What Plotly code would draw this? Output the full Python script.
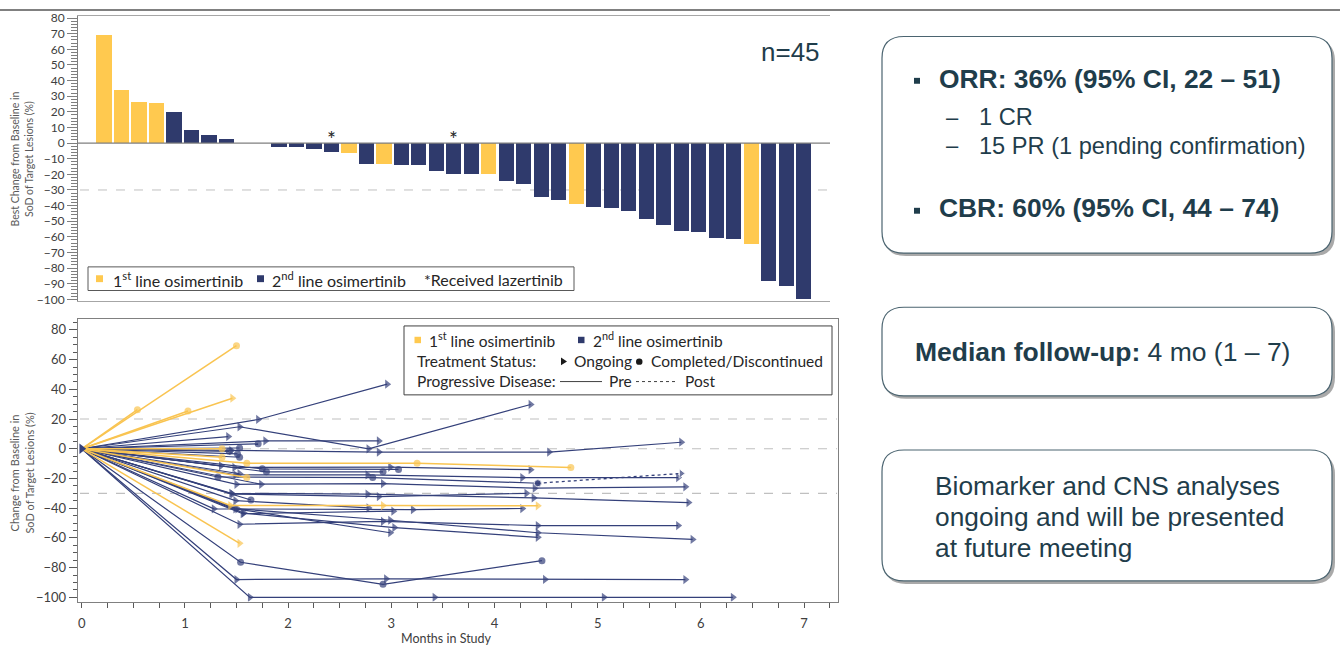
import plotly.graph_objects as go

W, H = 1340, 645


def X(px):
    return px / W


def Y(py):
    return 1 - py / H


# ---------------- Waterfall data ----------------
wf_best = [69.5, 34.3, 26.5, 25.5, 20.0, 8.2, 5.5, 2.9, 0, 0, -2.3, -2.5, -3.6, -5.7, -6.1,
           -13.0, -13.0, -14.2, -14.0, -18.0, -19.7, -19.9, -19.9, -23.9, -25.8, -34.6, -36.3,
           -38.8, -40.5, -41.3, -43.6, -48.2, -52.0, -56.0, -56.8, -60.6, -61.0, -64.4, -88.1,
           -91.6, -99.6]
wf_line = [1, 1, 1, 1, 2, 2, 2, 2, 2, 2, 2, 2, 2, 2, 1, 2, 1, 2, 2, 2, 2, 2, 1, 2, 2, 2, 2,
           1, 2, 2, 2, 2, 2, 2, 2, 2, 2, 1, 2, 2, 2]
wf_lazertinib = [13, 20]

# ---------------- Spider data ----------------
sp_months = [
    [0, 1.50], [0, 0.54], [0, 1.03], [0, 1.46], [0, 1.53], [0, 1.36], [0, 1.36],
    [0, 1.60, 3.25, 4.74], [0, 1.60], [0, 1.44, 2.92, 4.42],
    [0, 1.71, 2.96], [0, 1.53, 2.78, 4.35], [0, 1.42], [0, 1.78, 2.88], [0, 1.71],
    [0, 1.45, 2.88, 4.53, 5.81], [0, 1.43], [0, 1.53], [0, 1.51], [0, 1.53], [0, 1.35],
    [0, 1.48, 2.99, 4.35], [0, 1.75, 3.07], [0, 1.79, 2.92], [0, 1.53],
    [0, 1.32, 2.82, 4.42], [0, 1.49, 2.77, 4.27, 5.78], [0, 1.74],
    [0, 1.50, 2.92, 4.39, 5.85], [0, 1.46, 2.88, 4.31], [0, 1.45, 2.77, 4.38, 5.88],
    [0, 1.64], [0, 1.49, 2.78], [0, 1.28, 3.21, 4.27], [0, 1.56, 3.02],
    [0, 1.53, 2.92, 4.42, 5.78], [0, 1.51, 2.99, 4.42, 5.92], [0, 1.57, 3.03, 4.42],
    [0, 1.49, 2.99], [0, 1.50, 2.95, 4.49, 5.85], [0, 1.54, 2.92, 4.46],
    [0, 1.63, 3.42, 5.06, 6.31],
]
sp_values = [
    [0, 69.4], [0, 26.3], [0, 25.4], [0, 34.0], [0, -63.6], [0, 0.0], [0, -5.7],
    [0, -9.7, -9.7, -12.6], [0, -19.4], [0, -38.2, -38.2, -38.4],
    [0, 19.7, 43.5], [0, 14.8, 0.0, 29.8], [0, 8.2], [0, 5.3, 5.3], [0, 3.3],
    [0, -1.2, -2.2, -2.2, 4.4], [0, -1.7], [0, 0.5], [0, -3.5], [0, -5.7], [0, -11.5],
    [0, -12.6, -12.3, -14.1], [0, -13.5, -13.9], [0, -15.5, -15.5], [0, -16.8],
    [0, -19.0, -19.4, -23.2], [0, -17.5, -17.6, -19.4, -19.4], [0, -23.9],
    [0, -23.9, -23.4, -26.5, -25.6], [0, -30.5, -32.2, -30.0], [0, -30.0, -30.5, -33.1, -36.2],
    [0, -34.5], [0, -34.9, -39.8], [0, -40.4, -41.0, -40.2], [0, -43.7, -42.0],
    [0, -50.8, -48.8, -51.7, -51.7], [0, -40.4, -48.1, -56.5, -61.0], [0, -43.3, -53.0, -59.6],
    [0, -40.4, -56.5], [0, -88.0, -87.5, -87.9, -88.0], [0, -76.4, -91.2, -75.3],
    [0, -100.0, -100.0, -100.0, -100.0],
]
sp_line = [1] * 10 + [2] * 32
sp_ongoing = [False, False, False, True, True, False, False, False, False, True,
              True, True, True, True, False, True, False, False, False, False, True,
              True, False, False, True, False, True, True, True, True, True,
              False, True, True, True, True, True, True, True, True, False, True]
# post-progression (dotted) segment
post_months = [4.42, 5.81]
post_values = [-23.2, -16.6]

YEL_BAR = '#FFC94F'
NAVY_BAR = '#2F3A6C'
YEL_LINE = '#F9C451'
NAVY_LINE = '#34407A'
TXT = '#1F3D4B'
CHART_FONT = 'Lato'
SLIDE_FONT = 'Liberation Sans'

fig = go.Figure()

# ---------------- Waterfall ----------------
fig.add_trace(go.Bar(
    x=list(range(len(wf_best))), y=wf_best,
    marker=dict(color=[YEL_BAR if l == 1 else NAVY_BAR for l in wf_line], line=dict(width=0)),
    width=0.86, xaxis='x', yaxis='y', showlegend=False, hoverinfo='skip'))

# ---------------- Spider ----------------
order = [i for i in range(len(sp_months)) if sp_line[i] == 2] + \
        [i for i in range(len(sp_months)) if sp_line[i] == 1]
for i in order:
    col = YEL_LINE if sp_line[i] == 1 else NAVY_LINE
    sym = 'triangle-right' if sp_ongoing[i] else 'circle'
    n = len(sp_months[i])
    fig.add_trace(go.Scatter(
        x=sp_months[i], y=sp_values[i], mode='lines+markers',
        line=dict(color=col, width=1.5 if sp_line[i] == 1 else 1.2),
        marker=dict(symbol=sym, color=col, size=[0] + [8 if sp_ongoing[i] else 7] * (n - 1),
                    line=dict(width=0)),
        xaxis='x2', yaxis='y2', showlegend=False, hoverinfo='skip'))

fig.add_trace(go.Scatter(
    x=post_months, y=post_values, mode='lines+markers',
    line=dict(color=NAVY_LINE, width=1.3, dash='dot'),
    marker=dict(symbol=['circle', 'triangle-right'], size=[7, 8], color=NAVY_LINE),
    xaxis='x2', yaxis='y2', showlegend=False, hoverinfo='skip'))

# origin marker
fig.add_trace(go.Scatter(
    x=[sp_months[0][0]], y=[sp_values[0][0]], mode='markers',
    marker=dict(symbol='triangle-right', size=9, color=NAVY_LINE),
    xaxis='x2', yaxis='y2', showlegend=False, hoverinfo='skip'))

shapes = []
ann = []

# slide header line
shapes.append(dict(type='line', xref='paper', yref='paper', x0=0, x1=1, y0=Y(5), y1=Y(5),
                   line=dict(color='#808080', width=2)))

# waterfall reference lines
shapes.append(dict(type='line', xref='paper', yref='y', x0=X(78), x1=X(830), y0=0, y1=0,
                   line=dict(color='#7f7f7f', width=1.3)))
shapes.append(dict(type='line', xref='paper', yref='y', x0=X(80), x1=X(830), y0=-30, y1=-30,
                   line=dict(color='#c0c0c0', width=1, dash='dash'), layer='below'))

# spider reference lines
for yv in [20, 0, -30]:
    shapes.append(dict(type='line', xref='paper', yref='y2', x0=X(80), x1=X(837), y0=yv, y1=yv,
                       line=dict(color='#c0c0c0', width=1.1, dash='dash'), layer='below'))

# waterfall asterisks
for idx in wf_lazertinib:
    ann.append(dict(x=idx, y=Y(136), xref='x', yref='paper', text='*', showarrow=False,
                    font=dict(family=CHART_FONT, size=21, color='#262626'),
                    xanchor='center', yanchor='middle'))

# waterfall legend
shapes.append(dict(type='rect', xref='paper', yref='paper', x0=X(88), x1=X(574), y0=Y(290), y1=Y(266),
                   line=dict(color='#595959', width=1), fillcolor='white'))
shapes.append(dict(type='rect', xref='paper', yref='paper', x0=X(96), x1=X(103), y0=Y(281.5), y1=Y(274.5),
                   line=dict(width=0), fillcolor=YEL_BAR))
shapes.append(dict(type='rect', xref='paper', yref='paper', x0=X(257), x1=X(264), y0=Y(281.5), y1=Y(274.5),
                   line=dict(width=0), fillcolor=NAVY_BAR))
for xp, t in [(111, '1<sup>st</sup> line osimertinib'), (270, '2<sup>nd</sup> line osimertinib'),
              (422, '*Received lazertinib')]:
    ann.append(dict(x=X(xp), y=Y(278.5), xref='paper', yref='paper', text=t, showarrow=False,
                    font=dict(family=CHART_FONT, size=16, color='#262626'),
                    xanchor='left', yanchor='middle'))

# n=45
ann.append(dict(x=X(790), y=Y(48), xref='paper', yref='paper', text='n=45', showarrow=False,
                font=dict(family=SLIDE_FONT, size=26, color=TXT), xanchor='center', yanchor='middle'))

# axis titles
ann.append(dict(x=X(22), y=Y(157), xref='paper', yref='paper',
                text='Best Change from Baseline in<br>SoD of Target Lesions (%)', showarrow=False,
                textangle=-90, font=dict(family=CHART_FONT, size=10.5, color='#595959'),
                xanchor='center', yanchor='middle'))
ann.append(dict(x=X(22), y=Y(476), xref='paper', yref='paper',
                text='Change from Baseline in<br>SoD of Target Lesions (%)', showarrow=False,
                textangle=-90, font=dict(family=CHART_FONT, size=11, color='#595959'),
                xanchor='center', yanchor='middle'))
ann.append(dict(x=X(446), y=Y(643), xref='paper', yref='paper', text='Months in Study',
                showarrow=False, font=dict(family=CHART_FONT, size=12.5, color='#404040'),
                xanchor='center', yanchor='middle'))

# spider legend
shapes.append(dict(type='rect', xref='paper', yref='paper', x0=X(404), x1=X(832), y0=Y(396), y1=Y(326),
                   line=dict(color='#404040', width=1), fillcolor='white'))
shapes.append(dict(type='rect', xref='paper', yref='paper', x0=X(414.5), x1=X(421), y0=Y(343.5), y1=Y(337),
                   line=dict(width=0), fillcolor=YEL_BAR))
shapes.append(dict(type='rect', xref='paper', yref='paper', x0=X(578), x1=X(584.5), y0=Y(343.5), y1=Y(337),
                   line=dict(width=0), fillcolor=NAVY_BAR))
shapes.append(dict(type='path', xref='paper', yref='paper',
                   path=f'M {X(561)},{Y(358)} L {X(567)},{Y(362)} L {X(561)},{Y(366)} Z',
                   fillcolor='#1a1a1a', line=dict(width=0)))
shapes.append(dict(type='circle', xref='paper', yref='paper', x0=X(636), x1=X(642.5), y0=Y(365.5), y1=Y(359),
                   fillcolor='#1a1a1a', line=dict(width=0)))
shapes.append(dict(type='line', xref='paper', yref='paper', x0=X(560), x1=X(602), y0=Y(382.5), y1=Y(382.5),
                   line=dict(color='#404040', width=1)))
shapes.append(dict(type='line', xref='paper', yref='paper', x0=X(636), x1=X(678), y0=Y(382.5), y1=Y(382.5),
                   line=dict(color='#404040', width=1, dash='dot')))
for xp, yp, t in [(427, 340, '1<sup>st</sup> line osimertinib'), (590.5, 340, '2<sup>nd</sup> line osimertinib'),
                  (414.5, 361.5, 'Treatment Status:'), (572, 361.5, 'Ongoing'),
                  (649, 361.5, 'Completed/Discontinued'), (414.5, 381.5, 'Progressive Disease:'),
                  (607, 381.5, 'Pre'), (683, 381.5, 'Post')]:
    ann.append(dict(x=X(xp), y=Y(yp), xref='paper', yref='paper', text=t, showarrow=False,
                    font=dict(family=CHART_FONT, size=15.5, color='#262626'),
                    xanchor='left', yanchor='middle'))


# ---------------- right panel boxes ----------------
def rrect(x0, y0, x1, y1, r):
    pts = [('M', x0 + r, y0), ('L', x1 - r, y0), ('Q', x1, y0, x1, y0 + r), ('L', x1, y1 - r),
           ('Q', x1, y1, x1 - r, y1), ('L', x0 + r, y1), ('Q', x0, y1, x0, y1 - r),
           ('L', x0, y0 + r), ('Q', x0, y0, x0 + r, y0)]
    s = ''
    for p in pts:
        cmd = p[0]
        coords = p[1:]
        parts = []
        for k in range(0, len(coords), 2):
            parts.append(f'{X(coords[k]):.5f},{Y(coords[k + 1]):.5f}')
        s += cmd + ' ' + ' '.join(parts) + ' '
    return s + 'Z'


for (y0, y1) in [(32, 252), (307, 397), (452, 585)]:
    shapes.append(dict(type='path', xref='paper', yref='paper', path=rrect(884, y0 + 3, 1335, y1 + 3, 22),
                       fillcolor='#a9a9a9', line=dict(width=0), layer='below'))
    shapes.append(dict(type='path', xref='paper', yref='paper', path=rrect(882, y0, 1332, y1, 22),
                       fillcolor='white', line=dict(color='#4B6470', width=1.2), layer='below'))

# bullets
for yc in [77, 209]:
    shapes.append(dict(type='rect', xref='paper', yref='paper', x0=X(914), x1=X(920), y0=Y(yc + 3), y1=Y(yc - 3),
                       fillcolor=TXT, line=dict(width=0)))

ann.append(dict(x=X(937), y=Y(75), xref='paper', yref='paper',
                text='<b>ORR: 36% (95% CI, 22 – 51)</b>', showarrow=False,
                font=dict(family=SLIDE_FONT, size=26.4, color=TXT), xanchor='left', yanchor='middle'))
ann.append(dict(x=X(937), y=Y(206), xref='paper', yref='paper',
                text='<b>CBR: 60% (95% CI, 44 – 74)</b>', showarrow=False,
                font=dict(family=SLIDE_FONT, size=26.4, color=TXT), xanchor='left', yanchor='middle'))
for yc, t in [(114, '1 CR'), (143, '15 PR (1 pending confirmation)')]:
    ann.append(dict(x=X(944), y=Y(yc), xref='paper', yref='paper', text='–', showarrow=False,
                    font=dict(family=SLIDE_FONT, size=22, color=TXT), xanchor='left', yanchor='middle'))
    ann.append(dict(x=X(977), y=Y(yc), xref='paper', yref='paper', text=t, showarrow=False,
                    font=dict(family=SLIDE_FONT, size=23.6, color=TXT), xanchor='left', yanchor='middle'))
ann.append(dict(x=X(1102), y=Y(352), xref='paper', yref='paper',
                text='<b>Median follow-up:</b> 4 mo (1 – 7)', showarrow=False,
                font=dict(family=SLIDE_FONT, size=26.5, color=TXT), xanchor='center', yanchor='middle'))
for yc, t in [(489, 'Biomarker and CNS analyses'), (520, 'ongoing and will be presented'),
              (552, 'at future meeting')]:
    ann.append(dict(x=X(933), y=Y(yc), xref='paper', yref='paper', text=t, showarrow=False,
                    font=dict(family=SLIDE_FONT, size=26.3, color=TXT), xanchor='left', yanchor='middle'))

tickfont = dict(family=CHART_FONT, size=12, color='#404040')

fig.update_layout(
    width=W, height=H, margin=dict(l=0, r=0, t=0, b=0),
    paper_bgcolor='white', plot_bgcolor='rgba(0,0,0,0)',
    bargap=0, shapes=shapes, annotations=ann,
    xaxis=dict(domain=[X(78), X(830)], range=[-1.486, 41.49], showticklabels=False, ticks='',
               showgrid=False, zeroline=False, showline=True, mirror=True, linecolor='#a6a6a6',
               linewidth=1, anchor='y', fixedrange=True),
    yaxis=dict(domain=[Y(301), Y(11)], range=[-101.26, 81.45], tick0=0, dtick=10, ticks='outside',
               ticklen=10, tickcolor='#7f7f7f', tickwidth=1, showline=True, linecolor='#7f7f7f',
               showgrid=False, zeroline=False, tickfont=tickfont, anchor='x',
               minor=dict(dtick=2, tick0=0, ticks='outside', ticklen=6, tickcolor='#7f7f7f', showgrid=False)),
    xaxis2=dict(domain=[X(77.7), X(837.7)], range=[-0.0388, 7.326], tick0=0, dtick=1, ticks='outside',
                ticklen=5, tickcolor='#595959', showline=True, mirror=True, linecolor='#808080',
                showgrid=False, zeroline=False, anchor='y2', ticklabelstandoff=5,
                tickfont=dict(family=CHART_FONT, size=13, color='#404040'),
                minor=dict(dtick=0.25, tick0=0, ticks='outside', ticklen=5, tickcolor='#595959', showgrid=False)),
    yaxis2=dict(domain=[Y(606), Y(319.3)], range=[-102.85, 87.09], tick0=0, dtick=20, ticks='outside',
                ticklen=8, tickcolor='#595959', showline=True, mirror=True, linecolor='#808080',
                showgrid=False, zeroline=False, anchor='x2',
                tickfont=dict(family=CHART_FONT, size=13, color='#404040'),
                minor=dict(dtick=5, tick0=0, ticks='outside', ticklen=4, tickcolor='#595959', showgrid=False)),
)

fig.write_html(
    'out.html',
    config={'displayModeBar': False},
    post_script="document.body.style.margin='0';document.body.style.padding='0';"
                "document.documentElement.style.overflow='hidden';document.body.style.overflow='hidden';")
